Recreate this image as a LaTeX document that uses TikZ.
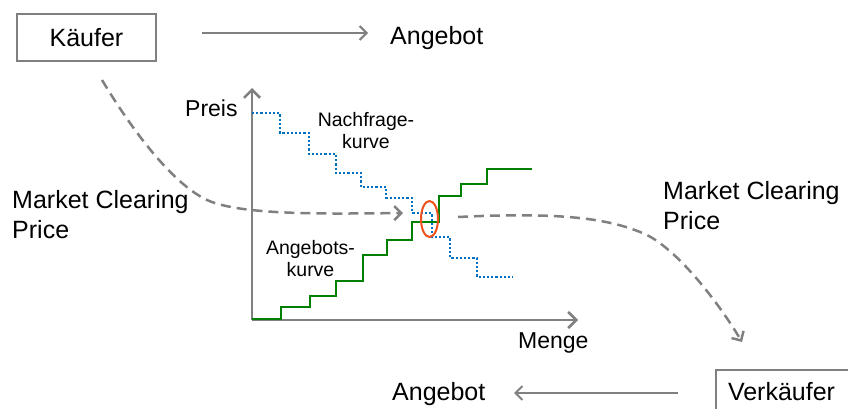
\documentclass[tikz,border=0pt]{standalone}
\usepackage{fontspec}
\setmainfont{Liberation Sans}
\usetikzlibrary{arrows.meta,shapes.geometric}
\definecolor{linegray}{RGB}{128,128,128}
\definecolor{supplygreen}{RGB}{0,128,0}
\definecolor{demandblue}{RGB}{0,112,192}
\definecolor{marker}{RGB}{240,80,30}

\begin{document}
\begin{tikzpicture}[x=1pt,y=-1pt,
  lbl/.style={inner sep=0pt, font=\fontsize{25}{30}\selectfont},
  axislbl/.style={inner sep=0pt, font=\fontsize{23}{28}\selectfont},
  curvelbl/.style={inner sep=0pt, align=center, font=\fontsize{19.5}{22}\selectfont},
  box/.style={draw=linegray, line width=2pt},
  flow/.style={draw=linegray, line width=2pt, -{Straight Barb[length=7pt,width=14pt]}},
  axis/.style={draw=linegray, line width=2.6pt, -{Straight Barb[length=8pt,width=16pt]}},
  clearing/.style={draw=linegray, line width=2.5pt, dash pattern=on 10pt off 6pt,
                   -{Straight Barb[length=7pt,width=14pt]}},
  supply/.style={draw=supplygreen, line width=2.5pt},
  demand/.style={draw=demandblue, line width=2.2pt, dash pattern=on 2.2pt off 2pt},
]
\useasboundingbox (0,0) rectangle (848,409);
\clip (0,0) rectangle (848,409);

% buyer and seller
\node[lbl, box, minimum width=139pt, minimum height=47pt] (kaeufer) at (86.5,37.5) {Käufer};
\node[lbl, anchor=base west] (angebotTop) at (390,45) {Angebot};
\node[lbl, box, anchor=base west, text width=150pt, align=left,
      inner xsep=12pt, inner ysep=11.5pt] (verkaeufer) at (715,400) {Verkäufer};
\node[lbl, anchor=base west] (angebotBot) at (392,400) {Angebot};

\coordinate (topFrom) at (202,33);
\coordinate (topTo) at (368,33);
\draw[flow] (topFrom) -- (topTo);
\coordinate (botFrom) at (678,393);
\coordinate (botTo) at (514,393);
\draw[flow] (botFrom) -- (botTo);

% axes
\coordinate (origin) at (252,320);
\coordinate (yTip) at (252,88);
\coordinate (xTip) at (578,320);
\draw[axis] (origin) -- (yTip);
\draw[axis] (origin) -- (xTip);
\node[axislbl, anchor=base west] (preis) at (185,117) {Preis};
\node[axislbl, anchor=base west] (menge) at (518,348) {Menge};

% demand curve (dotted steps)
\draw[demand] (252,113) -| (280,133) -| (309,154) -| (336,173) -| (361,187)
  -| (386,198) -| (412,213) -| (432,237) -| (450,258) -| (477,277) -- (513,277);
% supply curve (solid steps)
\draw[supply] (252,319) -| (281,307) -| (310,296) -| (336,281) -| (363,255)
  -| (387,240) -| (412,222) -| (439,196) -| (461,184) -| (487,169) -- (532,169);

% multi-line labels: the base anchor sits on the last line
\node[curvelbl, anchor=base] (nachfrage) at (366,148) {Nachfrage-\\kurve};
\node[curvelbl, anchor=base] (angebotskurve) at (310.5,276) {Angebots-\\kurve};

% equilibrium marker
\node[ellipse, draw=marker, line width=2pt, inner sep=0pt,
      minimum width=17pt, minimum height=36pt] (equilibrium) at (429.5,219) {};

% market clearing price flows
\node[lbl, anchor=base west, align=left] (mcpLeft) at (12,238) {Market Clearing\\Price};
\node[lbl, anchor=base west, align=left] (mcpRight) at (663,229) {Market Clearing\\Price};

\coordinate (leftFrom) at (102,80);
\coordinate (leftTo) at (403,213);
\draw[clearing] (leftFrom) .. controls (120,110) and (165,180) .. (207,200)
  .. controls (240,215) and (320,214) .. (leftTo);
\coordinate (rightFrom) at (458,217);
\coordinate (rightTo) at (742,342);
\draw[clearing] (rightFrom) .. controls (560,212) and (610,218) .. (647,235)
  .. controls (680,252) and (720,305) .. (rightTo);
\end{tikzpicture}
\end{document}
